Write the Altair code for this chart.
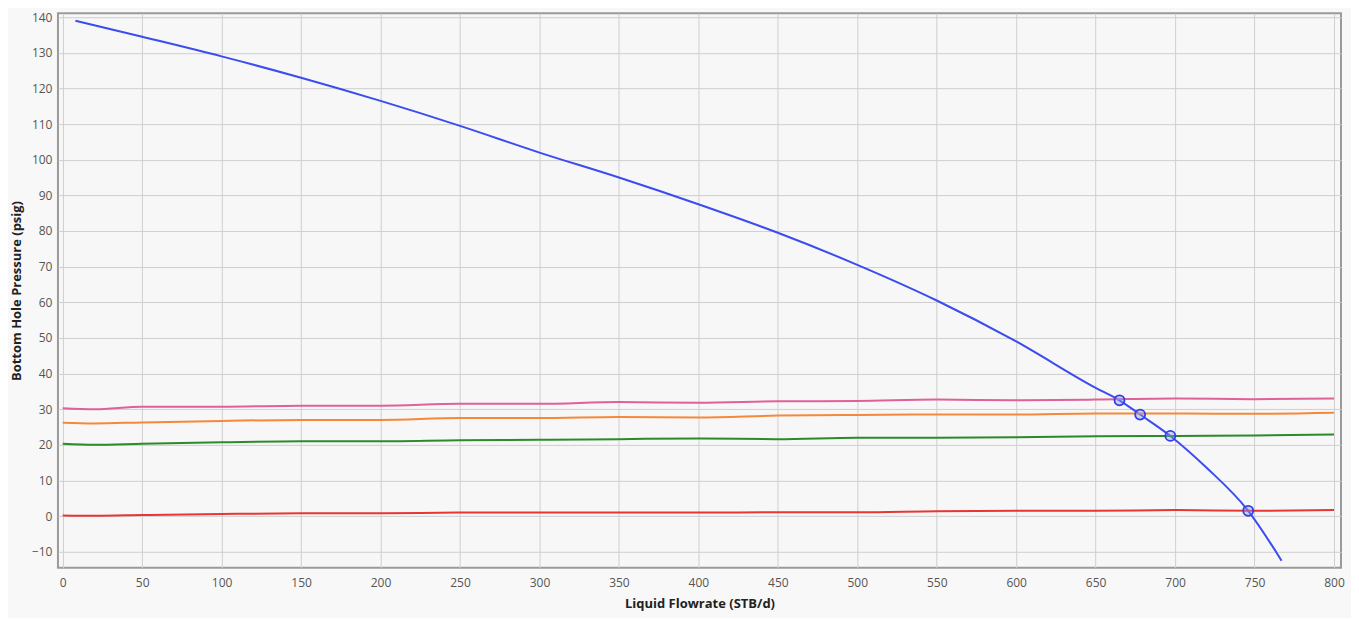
import altair as alt
import pandas as pd

# Blue IPR curve
ipr_q = [8, 50, 100, 150, 200, 250, 300, 350, 400, 450, 500, 550, 600, 650, 665, 678, 697, 720, 746, 767]
ipr_p = [139, 134.5, 129, 123, 116.5, 109.5, 102, 95, 87.5, 79.5, 70.5, 60.5, 49, 36, 32.5, 28.5, 22.5, 13.5, 1.5, -12.5]

# VLP curves
vlp_q = [0, 20, 50, 100, 150, 200, 250, 300, 350, 400, 450, 500, 550, 600, 650, 700, 750, 800]
pink_p = [30.3, 30.0, 30.7, 30.7, 31.0, 31.0, 31.5, 31.5, 32.0, 31.8, 32.2, 32.3, 32.7, 32.5, 32.7, 33.0, 32.8, 33.0]
orange_p = [26.2, 26.0, 26.3, 26.7, 27.0, 27.0, 27.5, 27.5, 27.8, 27.7, 28.2, 28.4, 28.5, 28.5, 28.8, 28.8, 28.7, 29.0]
green_p = [20.3, 20.0, 20.3, 20.7, 21.0, 21.0, 21.3, 21.4, 21.6, 21.8, 21.6, 22.0, 22.0, 22.1, 22.4, 22.5, 22.6, 22.9]
red_p = [0.2, 0.1, 0.3, 0.6, 0.8, 0.8, 1.0, 1.0, 1.0, 1.0, 1.1, 1.1, 1.4, 1.5, 1.5, 1.7, 1.5, 1.7]

# Operating points
op_q = [665, 678, 697, 746]
op_p = [32.5, 28.5, 22.5, 1.5]

x_ticks = list(range(0, 801, 50))
y_ticks = list(range(-10, 141, 10))

series_names = ["IPR", "VLP 1", "VLP 2", "VLP 3", "VLP 4"]
series_colors = ["#3b4cf0", "#e0609a", "#f5893a", "#2b8a2b", "#e83535"]

rows = []
for q, p in zip(ipr_q, ipr_p):
    rows.append({"q": q, "p": p, "s": "IPR"})
for name, vals in zip(series_names[1:], [pink_p, orange_p, green_p, red_p]):
    for q, p in zip(vlp_q, vals):
        rows.append({"q": q, "p": p, "s": name})
df = pd.DataFrame(rows)
pts = pd.DataFrame({"q": op_q, "p": op_p})

xscale = alt.Scale(domain=[-3, 804.4], nice=False, zero=False)
yscale = alt.Scale(domain=[-14.5, 141.1], nice=False, zero=False)

xaxis = alt.Axis(title="Liquid Flowrate (STB/d)", values=x_ticks, tickCount=len(x_ticks) + 2,
                 grid=True, gridColor="#cfcfcf", domain=False, ticks=False,
                 labelPadding=10, labelColor="#555555", labelFontSize=12,
                 labelOverlap=False,
                 titleFontSize=13, titleFontWeight="bold", titleColor="#222222",
                 titlePadding=9, labelFont="Open Sans", titleFont="Open Sans")
yaxis = alt.Axis(title="Bottom Hole Pressure (psig)", values=y_ticks, tickCount=len(y_ticks) + 2,
                 grid=True, gridColor="#cfcfcf", domain=False, ticks=False,
                 labelPadding=6, labelColor="#555555", labelFontSize=12,
                 labelOverlap=False,
                 titleFontSize=13, titleFontWeight="bold", titleColor="#222222",
                 titlePadding=8, labelFont="Open Sans", titleFont="Open Sans")

lines = alt.Chart(df).mark_line(strokeWidth=2, interpolate="monotone").encode(
    x=alt.X("q:Q", scale=xscale, axis=xaxis),
    y=alt.Y("p:Q", scale=yscale, axis=yaxis),
    color=alt.Color("s:N", scale=alt.Scale(domain=series_names, range=series_colors), legend=None),
    detail="s:N",
)

points = alt.Chart(pts).mark_point(shape="circle", size=100, filled=True, fill="#8a96f5",
                                   fillOpacity=0.4, stroke="#2f3fe8", strokeWidth=1.8).encode(
    x=alt.X("q:Q", scale=xscale, axis=xaxis),
    y=alt.Y("p:Q", scale=yscale, axis=yaxis),
)

chart = alt.layer(lines, points).properties(
    width=1284, height=555,
    autosize=alt.AutoSizeParams(type="none"),
    padding={"left": 50, "top": 5, "right": 10, "bottom": 50},
    background="#f8f8f8",
).configure_view(stroke="#9a9a9a", strokeWidth=2, fill="#f7f7f7")

chart.save("out.html", embed_options={"renderer": "svg", "actions": False})
